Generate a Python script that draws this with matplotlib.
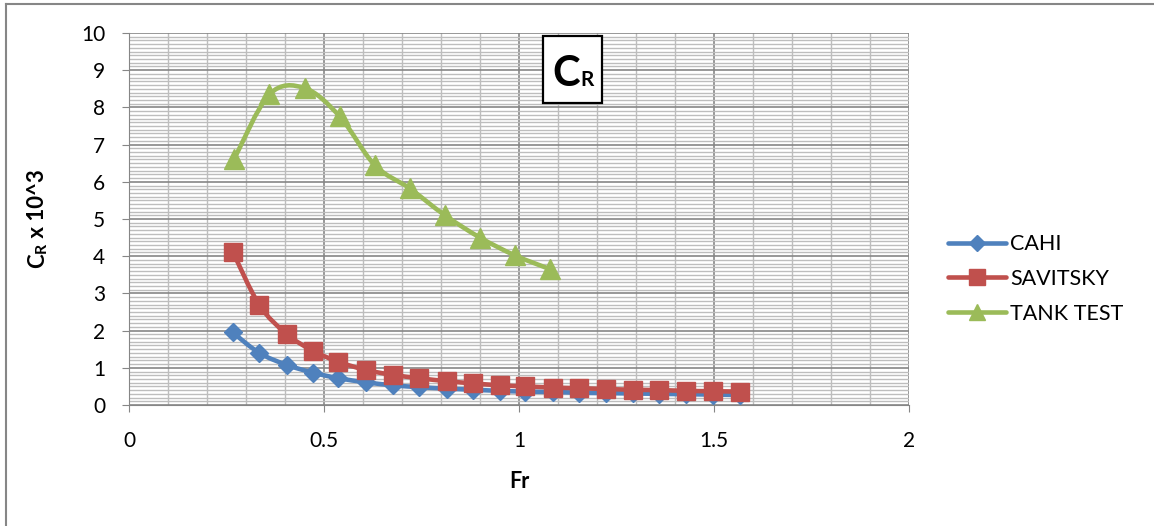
import numpy as np
import matplotlib
matplotlib.use("Agg")
import matplotlib.pyplot as plt
from matplotlib.path import Path
from matplotlib.patches import PathPatch, Rectangle
from matplotlib.lines import Line2D

plt.rcParams['font.family'] = ['Lato', 'DejaVu Sans']

# data
fr = [0.266, 0.334, 0.404, 0.471, 0.537, 0.608, 0.676, 0.744, 0.815, 0.883,
      0.951, 1.015, 1.086, 1.155, 1.223, 1.293, 1.360, 1.428, 1.497, 1.567]
cahi = [1.95, 1.40, 1.08, 0.87, 0.72, 0.61, 0.53, 0.48, 0.44, 0.41,
        0.38, 0.36, 0.35, 0.33, 0.32, 0.31, 0.30, 0.29, 0.28, 0.27]
savitsky = [4.12, 2.69, 1.91, 1.46, 1.16, 0.94, 0.81, 0.72, 0.64, 0.58,
            0.53, 0.50, 0.47, 0.45, 0.43, 0.41, 0.40, 0.38, 0.37, 0.36]
fr_tank = [0.270, 0.360, 0.450, 0.540, 0.630, 0.720, 0.810, 0.900, 0.990, 1.080]
tank = [6.62, 8.35, 8.52, 7.76, 6.45, 5.82, 5.10, 4.50, 4.02, 3.65]

series_names = ["CAHI", "SAVITSKY", "TANK TEST"]
x_ticks = [0, 0.5, 1, 1.5, 2]
x_tick_labels = ["0", "0.5", "1", "1.5", "2"]
y_ticks = [0, 1, 2, 3, 4, 5, 6, 7, 8, 9, 10]


def smooth_path(x, y):
    # excel style smoothed line: bezier through the points
    p = np.column_stack([x, y])
    n = len(p)
    verts = [p[0]]
    codes = [Path.MOVETO]
    for i in range(n - 1):
        p0 = p[i - 1] if i > 0 else p[i]
        p3 = p[i + 2] if i + 2 < n else p[i + 1]
        c1 = p[i] + (p[i + 1] - p0) / 6.0
        c2 = p[i + 1] - (p3 - p[i]) / 6.0
        verts += [c1, c2, p[i + 1]]
        codes += [Path.CURVE4] * 3
    return Path(verts, codes)


fig = plt.figure(figsize=(11.54, 5.26), dpi=100)
ax = fig.add_axes([129 / 1154, 1 - 405 / 526, 780 / 1154, 372 / 526])

grid_major = "#868686"
grid_minor = "#bdbdbd"

ax.set_xlim(0, 2)
ax.set_ylim(0, 10)
ax.set_xticks(x_ticks)
ax.set_xticklabels(x_tick_labels)
ax.set_yticks(y_ticks)
ax.set_xticks(np.arange(0, 2.001, 0.1), minor=True)
ax.set_yticks(np.arange(0, 10.001, 0.1), minor=True)
ax.grid(which="minor", color=grid_minor, lw=1.0)
ax.grid(which="major", color=grid_major, lw=1.2)
ax.set_axisbelow(True)
ax.tick_params(which="minor", length=0)
ax.tick_params(which="major", length=5, color=grid_major, labelsize=15)
ax.tick_params(axis="x", pad=14)
ax.tick_params(axis="y", pad=12)
for s in ["top", "right"]:
    ax.spines[s].set_visible(False)
for s in ["left", "bottom"]:
    ax.spines[s].set_color(grid_major)

colors = ["#4F81BD", "#C0504D", "#9BBB59"]
markers = ["D", "s", "^"]
msizes = [9.5, 13, 14]
xs = [fr, fr, fr_tank]
ys = [cahi, savitsky, tank]

handles = []
for i in range(3):
    patch = PathPatch(smooth_path(xs[i], ys[i]), fill=False, edgecolor=colors[i],
                      lw=3.3, capstyle="round", joinstyle="round", zorder=3 + i)
    ax.add_patch(patch)
    ax.plot(xs[i], ys[i], ls="none", marker=markers[i], ms=msizes[i],
            color=colors[i], mec=colors[i], zorder=3 + i)
    handles.append(Line2D([], [], color=colors[i], lw=3.3, marker=markers[i],
                          ms=msizes[i] * 0.85, solid_capstyle="round"))

fig.legend(handles, series_names, loc="center left",
           bbox_to_anchor=(948 / 1154, 1 - 279 / 526), frameon=False,
           fontsize=15.5, handlelength=2.7, handletextpad=0.2,
           labelspacing=0.68, borderpad=0, borderaxespad=0)

# title box "CR"
ax.add_patch(Rectangle((0.531, 0.813), 0.075, 0.179, transform=ax.transAxes,
                       facecolor="white", edgecolor="black", lw=1.6, zorder=8))
tc = ax.text(0.543, 0.8575, "C", transform=ax.transAxes, fontsize=30,
             fontweight="bold", ha="left", va="baseline", zorder=9)
ax.annotate("R", xy=(1, 0.8575), xycoords=(tc, ax.transAxes), xytext=(0, 0),
            textcoords="offset points", fontsize=15, fontweight="bold",
            ha="left", va="baseline", zorder=9)

# axis labels
ax.set_xlabel("Fr", fontsize=15.5, fontweight="bold", labelpad=14)
t1 = fig.text(38 / 1154, 1 - 268 / 526, "C", rotation=90, fontsize=16,
              fontweight="bold", ha="center", va="bottom")
t2 = ax.annotate("R", xy=(1, 1), xycoords=t1, rotation=90, fontsize=11.5,
                 fontweight="bold", ha="right", va="bottom")
ax.annotate(" x 10^3", xy=(1, 1), xycoords=(t1, t2), rotation=90, fontsize=16,
            fontweight="bold", ha="right", va="bottom")

# chart border
fig.add_artist(Line2D([6 / 1154, 1], [1 - 4 / 526, 1 - 4 / 526], color=grid_major, lw=1.5))
fig.add_artist(Line2D([6 / 1154, 6 / 1154], [0, 1 - 4 / 526], color=grid_major, lw=1.5))

fig.savefig("out.png", dpi=100)
